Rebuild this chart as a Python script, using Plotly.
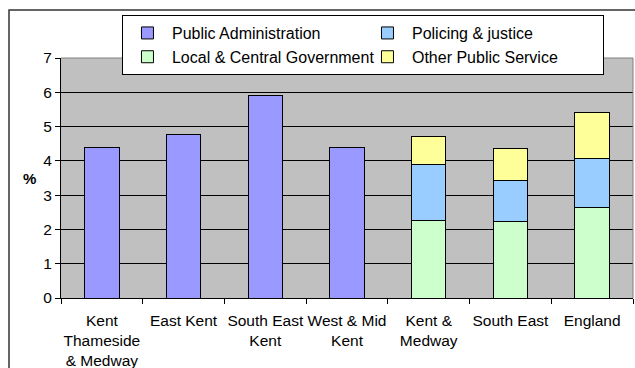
import plotly.graph_objects as go

categories = ["Kent<br>Thameside<br>& Medway", "East Kent", "South East<br>Kent",
              "West & Mid<br>Kent", "Kent &<br>Medway", "South East", "England"]

public_admin = [4.40, 4.78, 5.92, 4.40, None, None, None]
local_central = [None, None, None, None, 2.27, 2.23, 2.65]
policing = [None, None, None, None, 1.63, 1.20, 1.41]
other_public = [None, None, None, None, 0.82, 0.92, 1.36]

FONT = "Liberation Sans, Arial, sans-serif"
fs = 16
tick_fs = 15.5

fig = go.Figure()
series = [
    ("Public Administration", public_admin, "#9999FF", 1),
    ("Local & Central Government", local_central, "#CCFFCC", 3),
    ("Policing & justice", policing, "#99CCFF", 2),
    ("Other Public Service", other_public, "#FFFF99", 4),
]
for name, vals, col, rank in series:
    fig.add_trace(go.Bar(
        x=categories, y=vals, name=name, legendrank=rank,
        marker=dict(color=col, line=dict(color="black", width=1)),
    ))

fig.update_layout(
    width=635, height=368,
    margin=dict(l=61, r=2, t=58, b=70, autoexpand=False),
    paper_bgcolor="white", plot_bgcolor="#C0C0C0",
    barmode="stack", bargap=0.58,
    font=dict(family=FONT, size=fs, color="black"),
    showlegend=True,
    legend=dict(
        orientation="h", x=0.1066, y=1.179, xanchor="left", yanchor="top",
        bgcolor="white", bordercolor="black", borderwidth=1,
        entrywidth=186, itemwidth=39, traceorder="normal",
        font=dict(family=FONT, size=fs),
    ),
    xaxis=dict(
        tickson="boundaries", ticks="outside", ticklen=5, tickcolor="black",
        showline=True, linecolor="black", linewidth=1, mirror=False,
        tickangle=0, automargin=False, ticklabelstandoff=8,
        tickfont=dict(family=FONT, size=tick_fs), showgrid=False,
    ),
    yaxis=dict(
        range=[0, 7], dtick=1, ticks="outside", ticklen=5, tickcolor="black",
        showline=True, linecolor="black", linewidth=1, automargin=False,
        showgrid=True, gridcolor="black", gridwidth=1, zeroline=False,
        tickfont=dict(family=FONT, size=tick_fs),
    ),
    annotations=[dict(
        text="<b>%</b>", xref="paper", yref="paper", x=-0.040, y=0.5,
        xanchor="right", yanchor="middle", showarrow=False,
        font=dict(family=FONT, size=fs - 1),
    )],
    shapes=[
        # outer chart frame (left and top edges)
        dict(type="path", xref="paper", yref="paper",
             path="M -0.0909,-0.3 L -0.0909,1.2 L 1.01,1.2",
             line=dict(color="#333333", width=1.5)),
        # plot area border on top and right
        dict(type="path", xref="paper", yref="paper",
             path="M 0,1 L 1,1 L 1,0",
             line=dict(color="#808080", width=1)),
    ],
)

fig.write_html("out.html")
